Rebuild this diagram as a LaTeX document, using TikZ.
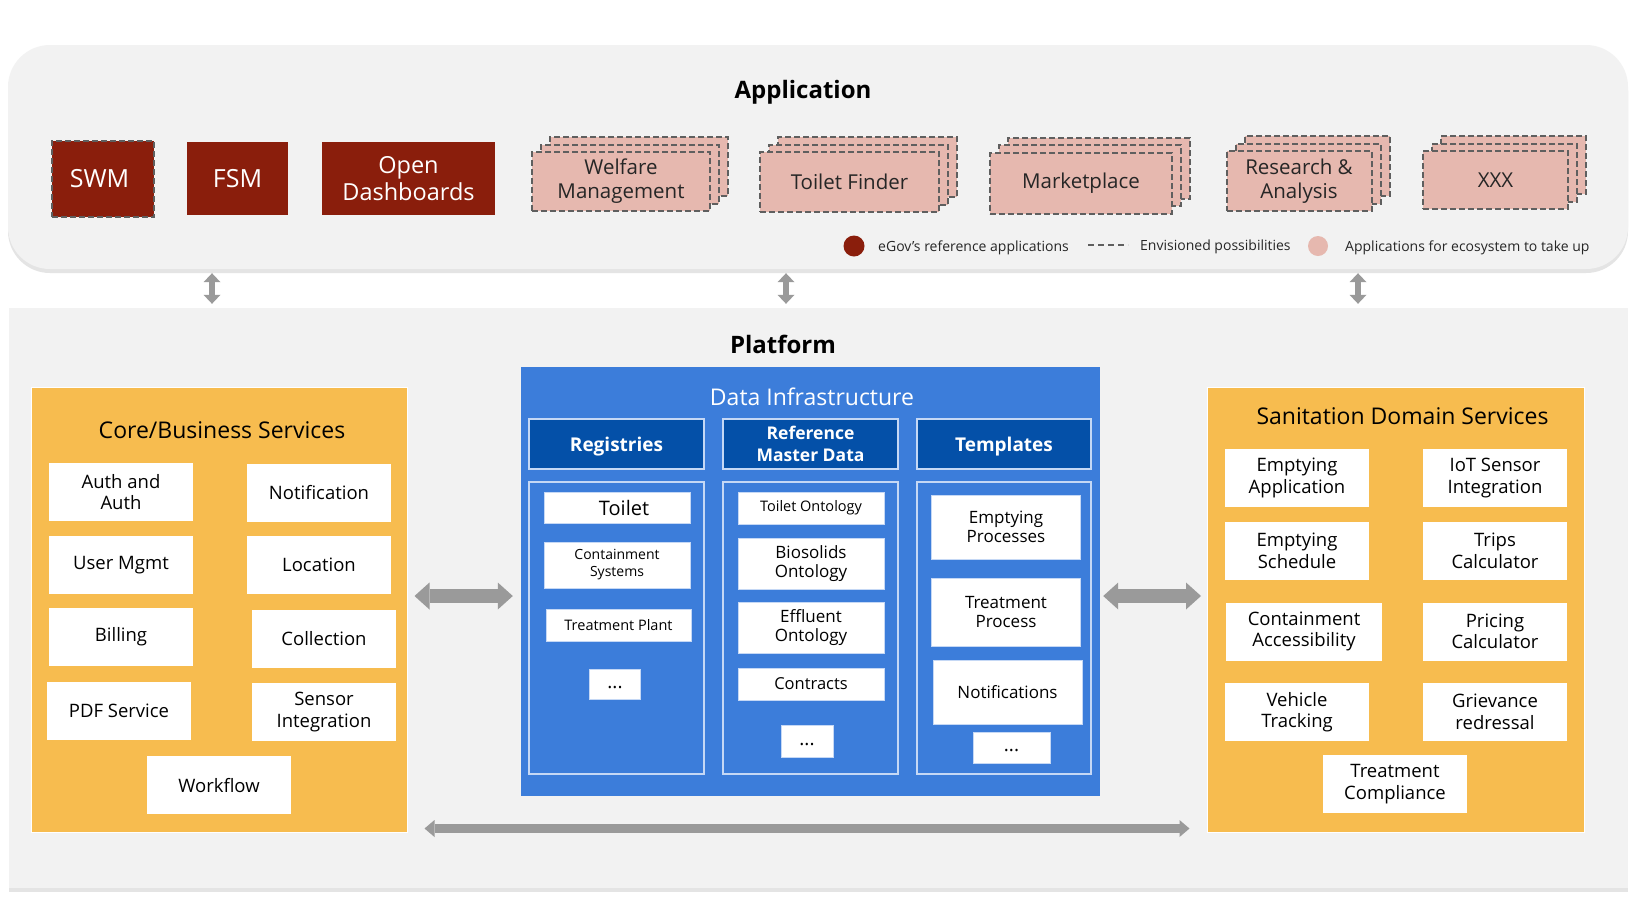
\documentclass[tikz,border=0pt]{standalone}
\usepackage{fontspec}
\setmainfont{Open Sans}
\usetikzlibrary{arrows.meta,shadows,calc}
\definecolor{panelgray}{HTML}{F2F2F2}
\definecolor{egovred}{HTML}{8A1E0C}
\definecolor{apppink}{HTML}{E6B8AF}
\definecolor{dashgray}{HTML}{5F5F5F}
\definecolor{svcorange}{HTML}{F7BC4F}
\definecolor{infrablue}{HTML}{3C7DDA}
\definecolor{headblue}{HTML}{0450A8}
\definecolor{edgeblue}{HTML}{C5D8F5}
\definecolor{arrowgray}{HTML}{9A9A9A}
\newcommand{\fsz}[2]{\fontsize{#1}{#2}\selectfont}
\tikzset{
  panel/.style={fill=panelgray, inner sep=0pt,
    drop shadow={shadow xshift=0pt, shadow yshift=-4pt, fill=black!30, opacity=0.35}},
  paneltitle/.style={font=\fsz{24}{28}\bfseries, inner sep=0pt},
  areatitle/.style={font=\fsz{23}{27}, inner sep=0pt},
  redapp/.style={fill=egovred, text=white, inner sep=0pt, align=center, font=\fsz{25}{27}},
  swmapp/.style={redapp, draw=dashgray, line width=2pt, dash pattern=on 6pt off 3pt},
  envapp/.style={fill=apppink, draw=dashgray, line width=2pt, dash pattern=on 6pt off 3pt,
    copy shadow={shadow xshift=18pt, shadow yshift=15pt},
    copy shadow={shadow xshift=9pt, shadow yshift=7.5pt},
    inner sep=0pt, align=center, text=black!85, font=\fsz{20.5}{24}},
  legendtext/.style={inner sep=0pt, anchor=west, text=black!85, font=\fsz{14}{16}},
  svcarea/.style={fill=svcorange, draw=white, line width=1pt, inner sep=0pt},
  svcbox/.style={fill=white, inner sep=0pt, align=center, minimum width=144pt,
    minimum height=58pt, font=\fsz{18.5}{21.5}},
  infra/.style={fill=infrablue, inner sep=0pt},
  infrahead/.style={fill=headblue, draw=edgeblue, line width=2pt, text=white, inner sep=0pt,
    align=center, minimum width=175pt, minimum height=50pt, font=\fsz{19}{23}\bfseries},
  infracol/.style={draw=edgeblue, line width=2pt, inner sep=0pt, minimum width=175pt,
    minimum height=292pt},
  datitem/.style={fill=white, draw=edgeblue, line width=0.8pt, inner sep=0pt, align=center},
  dotsitem/.style={datitem, font=\fsz{19}{20}},
  bigarrow/.style={draw=arrowgray, line width=14pt,
    {Triangle[width=27pt,length=15pt,line width=0pt]}-{Triangle[width=27pt,length=15pt,line width=0pt]}},
  longarrow/.style={draw=arrowgray, line width=9pt,
    {Triangle[width=17pt,length=10pt,line width=0pt]}-{Triangle[width=17pt,length=10pt,line width=0pt]}},
  updown/.style={draw=arrowgray, line width=6pt,
    {Triangle[width=17pt,length=9pt,line width=0pt]}-{Triangle[width=17pt,length=9pt,line width=0pt]}}
}
\begin{document}
\begin{tikzpicture}[x=1pt,y=-1pt]
    \useasboundingbox[fill=white] (0,0) rectangle (1636,906);
    \node[panel, rounded corners=42pt, minimum width=1620pt, minimum height=224pt] (app) at (818,157) {};
    \node[panel, minimum width=1619pt, minimum height=580pt] (plat) at (818.5,598) {};

    \node[paneltitle] (apptitle) at (803,92) {Application};
    \node[paneltitle] (plattitle) at (783,344) {Platform};

    \node[swmapp, minimum width=102pt, minimum height=76pt] (swm) at (103,179) {SWM\hspace*{7pt}};
    \node[redapp, minimum width=101pt, minimum height=73pt] (fsm) at (237.5,178.5) {FSM};
    \node[redapp, minimum width=173pt, minimum height=73pt, font=\fsz{23.5}{27}] (dashboards) at (408.5,178.5) {Open\\Dashboards};
    \foreach \nm/\cx/\cy/\w/\h/\txt in {welfare/621/181.5/178/59/{Welfare\\Management},
        finder/849.5/182/179/60/{Toilet Finder}, market/1081/183/182/61/Marketplace,
        research/1299/181/145/60/{Research \&\\Analysis}, xxx/1495.5/180/145/58/XXX}
        \node[envapp, minimum width=\w pt, minimum height=\h pt] (\nm) at (\cx,\cy) {\txt};

    \node[circle, fill=egovred, minimum size=21pt, inner sep=0pt] (legred) at (854,246) {};
    \node[legendtext] (legredtxt) at (878,248) {eGov’s reference applications};
    \draw[dashgray, line width=2pt, dash pattern=on 6pt off 4pt] (1088,245) -- (1128,245);
    \node[legendtext] (legdashtxt) at (1140,247) {Envisioned possibilities};
    \node[circle, fill=apppink, minimum size=20pt, inner sep=0pt] (legpink) at (1318,246) {};
    \node[legendtext] (legpinktxt) at (1345,248) {Applications for ecosystem to take up};

    \node[svcarea, minimum width=376pt, minimum height=445pt] (core) at (219,609.5) {};
    \node[areatitle] (coretitle) at (222,430) {Core/Business Services};
    \foreach \nm/\cx/\cy/\txt in {auth/121/492/{Auth and\\Auth}, notif/319/492.5/Notification,
        usermgmt/121/565/{User Mgmt}, location/319/565/Location,
        billing/121/636.5/Billing, collection/324/638.5/Collection,
        pdf/119/711/{PDF Service}, sensor/324/712/{Sensor\\Integration},
        workflow/219/785/Workflow}
        \node[svcbox] (\nm) at (\cx,\cy) {\txt};

    \node[infra, minimum width=579pt, minimum height=429pt] (infra) at (810.5,581.5) {};
    \node[areatitle, text=white] (infratitle) at (812,397) {Data Infrastructure};
    \node[infrahead, text depth=0pt] (registries) at (616.5,444) {Registries};
    \node[infrahead, font=\fsz{17.5}{22}\bfseries] (refmaster) at (810.5,444) {Reference\\Master Data};
    \node[infrahead, text depth=0pt, minimum width=174pt] (templates) at (1004,444) {Templates};
    \node[infracol] (regcol) at (616.5,628) {};
    \node[infracol] (refcol) at (810.5,628) {};
    \node[infracol, minimum width=174pt] (tmplcol) at (1004,628) {};

    \node[datitem, minimum width=146pt, minimum height=31pt, font=\fsz{20}{22}] (toilet) at (617,507.5) {\hspace*{14pt}Toilet};
    \node[datitem, minimum width=146pt, minimum height=46pt, font=\fsz{14}{17}] (containment) at (617,565) {Containment\\Systems};
    \node[datitem, minimum width=145pt, minimum height=32pt, font=\fsz{14.5}{17}] (tplant) at (618.5,625) {Treatment Plant};
    \node[dotsitem, minimum width=51pt, minimum height=30pt] (regdots) at (615,684) {\strut...};

    \node[datitem, minimum width=146pt, minimum height=32pt, font=\fsz{14.5}{17}] (toiletont) at (811,508) {Toilet Ontology};
    \node[datitem, minimum width=146pt, minimum height=51pt, font=\fsz{17}{19}] (biosolids) at (811,563.5) {Biosolids\\Ontology};
    \node[datitem, minimum width=146pt, minimum height=51pt, font=\fsz{17}{19}] (effluent) at (811,628) {Effluent\\Ontology};
    \node[datitem, minimum width=146pt, minimum height=32pt, font=\fsz{16.5}{19}] (contracts) at (811,684) {Contracts};
    \node[dotsitem, minimum width=52pt, minimum height=32pt] (refdots) at (807,741) {\strut...};

    \node[datitem, minimum width=149pt, minimum height=64pt, font=\fsz{17}{18.5}] (emptyproc) at (1006,527) {Emptying\\Processes};
    \node[datitem, minimum width=149pt, minimum height=68pt, font=\fsz{17}{18.5}] (treatproc) at (1006,612) {Treatment\\Process};
    \node[datitem, minimum width=149pt, minimum height=64pt, font=\fsz{17}{18.5}] (notifs) at (1007.5,692) {Notifications};
    \node[dotsitem, minimum width=77pt, minimum height=31pt] (tmpldots) at (1011.5,747.5) {\strut...};

    \node[svcarea, minimum width=377pt, minimum height=445pt] (sani) at (1395.5,609.5) {};
    \node[areatitle] (sanititle) at (1402.5,416) {Sanitation Domain Services};
    \foreach \nm/\cx/\cy/\txt in {emptyapp/1297/478/{Emptying\\Application}, iot/1495/478/{IoT Sensor\\Integration},
        emptysched/1297/551/{Emptying\\Schedule}, trips/1495/551/{Trips\\Calculator},
        pricing/1495/631.5/{Pricing\\Calculator},
        vehicle/1297/712/{Vehicle\\Tracking}, grievance/1495/712/{Grievance\\redressal},
        treatcomp/1395/784/{Treatment\\Compliance}}
        \node[svcbox] (\nm) at (\cx,\cy) {\txt};
    \node[svcbox, minimum width=156.5pt] (containacc) at (1304,631.5) {Containment\\Accessibility};

    \coordinate (midrow) at (0,596);
    \coordinate (lowrow) at (0,828.5);
    \draw[bigarrow] ($(core.east |- midrow)+(7,0)$) -- ($(infra.west |- midrow)+(-8,0)$);
    \draw[bigarrow] ($(infra.east |- midrow)+(3,0)$) -- ($(sani.west |- midrow)+(-5.5,0)$);
    \draw[longarrow] ($(core.east |- lowrow)+(17,0)$) -- ($(sani.west |- lowrow)+(-17,0)$);
    \foreach \ax in {212,786,1358}
        \draw[updown] ($(app.south)+(\ax-818,4)$) -- ($(plat.north)+(\ax-818.5,-4)$);
\end{tikzpicture}
\end{document}
